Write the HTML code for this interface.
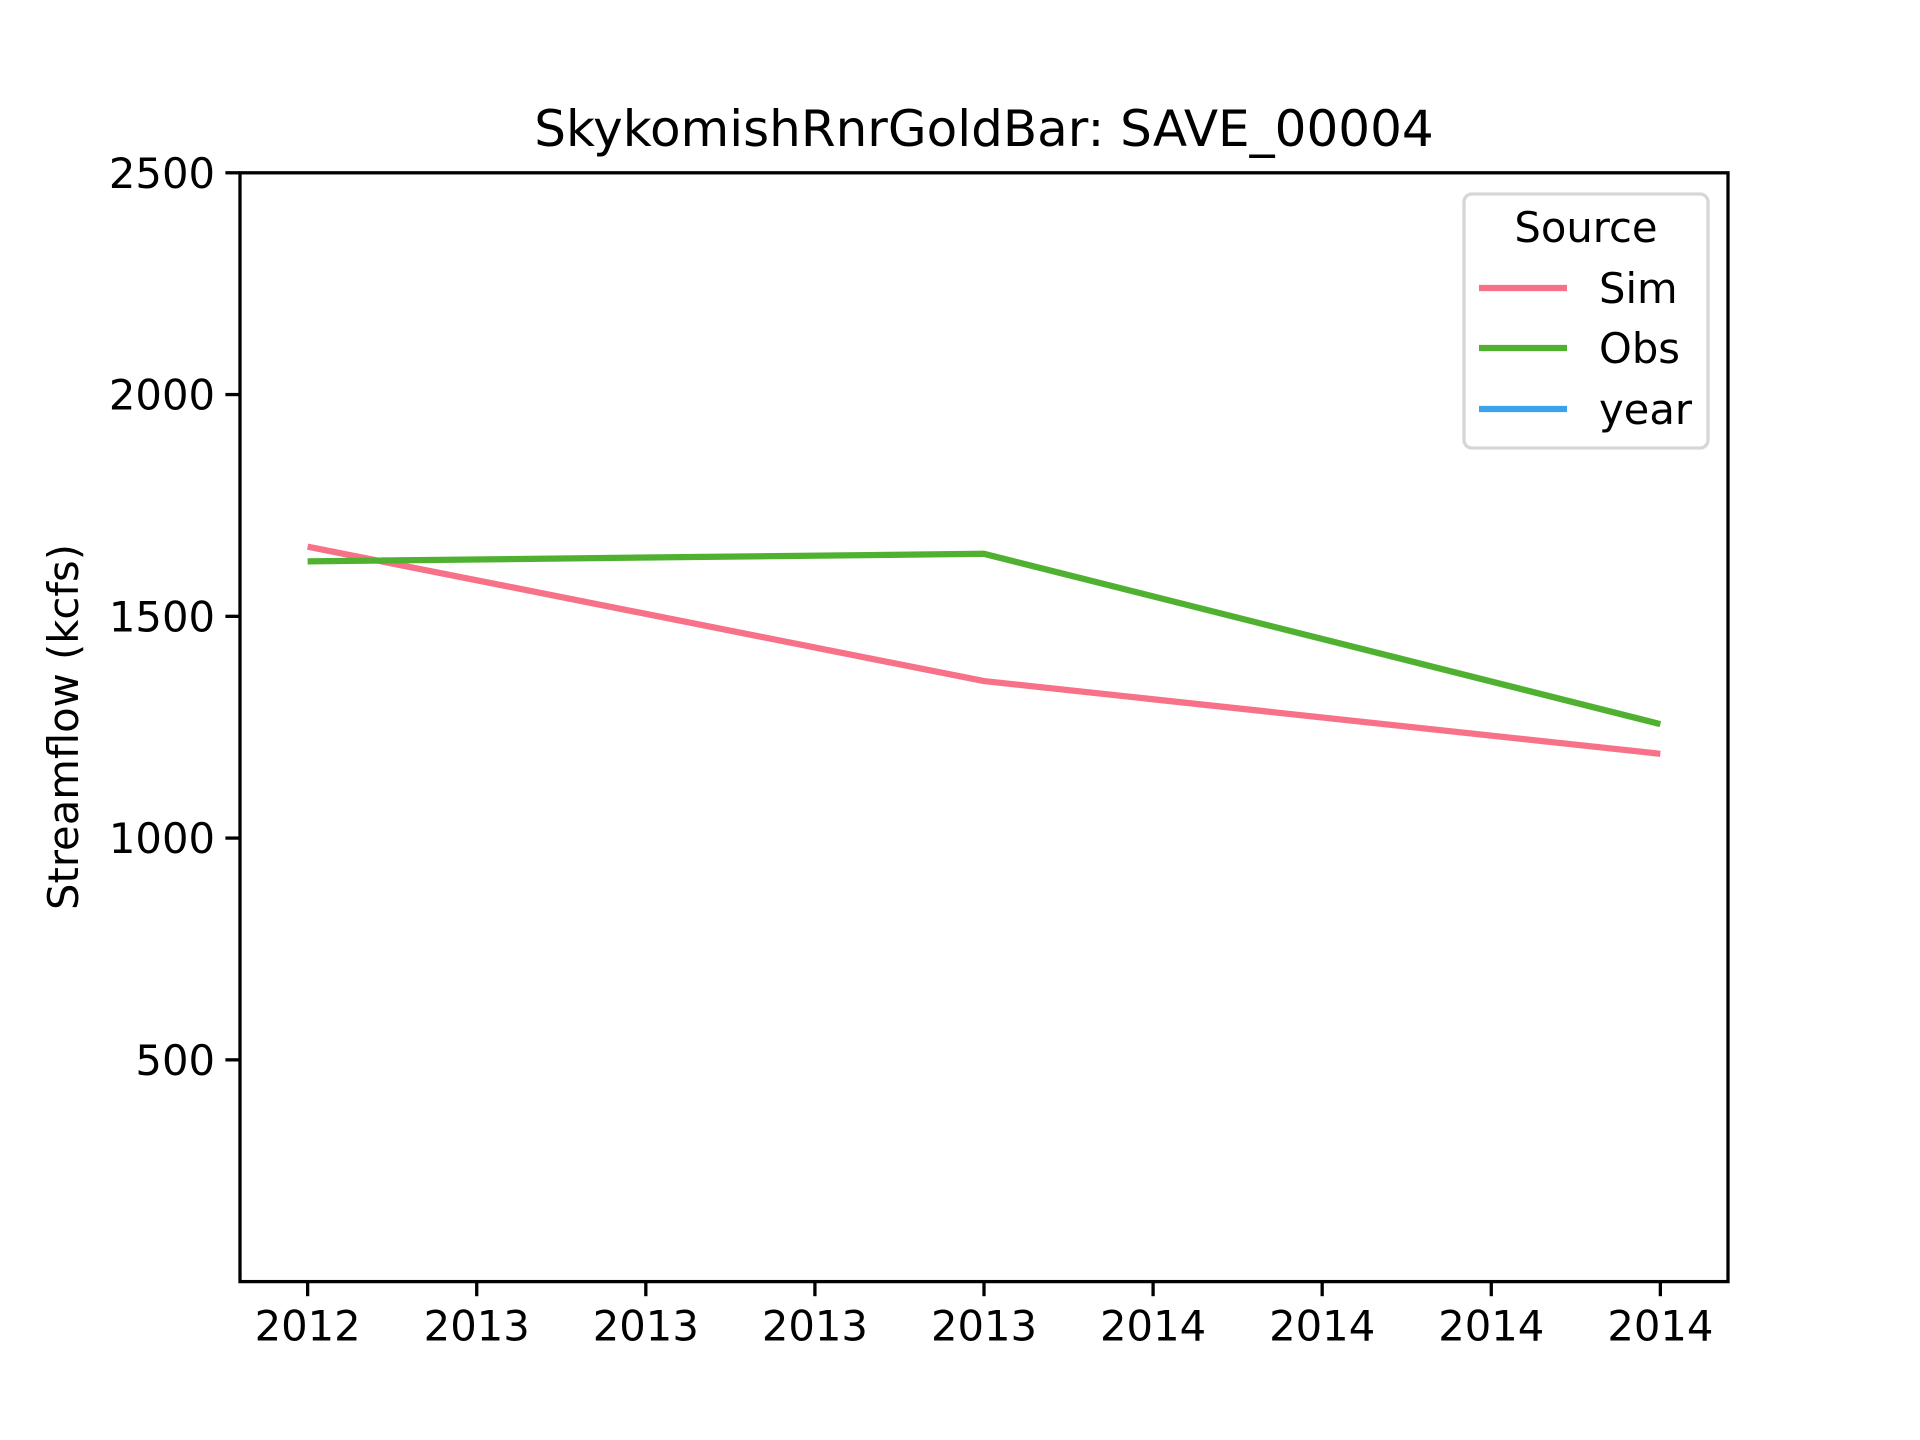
<!DOCTYPE html>
<html><head><meta charset="utf-8"><style>
html,body{margin:0;padding:0;background:#fff;}
svg{display:block;font-family:"DejaVu Sans","Liberation Sans",sans-serif;}
</style></head><body>
<svg id="chart" width="1920" height="1440" viewBox="0 0 1920 1440">
<rect width="1920" height="1440" fill="#fff"/>
<text x="984" y="146" font-size="50" text-anchor="middle">SkykomishRnrGoldBar: SAVE_00004</text>
<text transform="translate(78,727) rotate(-90)" font-size="41.7" text-anchor="middle">Streamflow (kcfs)</text>
<g id="xticks"></g>
<g id="yticks"></g>
<g id="series"></g>
<rect x="240" y="172.8" width="1488" height="1108.8" fill="none" stroke="#000" stroke-width="3.3"/>
<g>
<rect x="1464" y="194" width="244" height="254" rx="8" fill="#fff" fill-opacity="0.8" stroke="#d6d6d6" stroke-width="3.3"/>
<text x="1586" y="242" font-size="41.7" text-anchor="middle">Source</text>
<line x1="1479" y1="288" x2="1567" y2="288" stroke="#f77189" stroke-width="6.25"/>
<text x="1599" y="303" font-size="41.7">Sim</text>
<line x1="1479" y1="348" x2="1567" y2="348" stroke="#50b131" stroke-width="6.25"/>
<text x="1599" y="363" font-size="41.7">Obs</text>
<line x1="1479" y1="409" x2="1567" y2="409" stroke="#3ba3ec" stroke-width="6.25"/>
<text x="1599" y="424" font-size="41.7">year</text>
</g>
</svg>
<script>
const xTickLabels = ["2012","2013","2013","2013","2013","2014","2014","2014","2014"];
const yTickValues = [500,1000,1500,2000,2500];
const pointIndex = [0,4,8];
const simValues = [1657,1354,1190];
const obsValues = [1624,1641,1257];

const NS="http://www.w3.org/2000/svg";
const L=240,R=1728,T=172.8,B=1281.6;
const xMin=-0.4,xMax=8.4,yMin=0,yMax=2500;
function xs(v){return L+(v-xMin)/(xMax-xMin)*(R-L);}
function ys(v){return B-(v-yMin)/(yMax-yMin)*(B-T);}
function mk(tag,attrs,parent){const e=document.createElementNS(NS,tag);for(const k in attrs)e.setAttribute(k,attrs[k]);parent.appendChild(e);return e;}
const gx=document.getElementById('xticks'),gy=document.getElementById('yticks'),gs=document.getElementById('series');
xTickLabels.forEach((lab,i)=>{
  const x=xs(i);
  const t=mk('line',{x1:x,y1:B,x2:x,y2:B+14.6,stroke:'#000','stroke-width':3.3},gx);
  
  
  const tx=mk('text',{x:x,y:B+59,'font-size':41.7,'text-anchor':'middle'},gx);
  tx.textContent=lab;
  
  
});
yTickValues.forEach(v=>{
  const y=ys(v);
  const t=mk('line',{x1:L-14.6,y1:y,x2:L,y2:y,stroke:'#000','stroke-width':3.3},gy);
  
  
  const tx=mk('text',{x:L-25,y:y+15,'font-size':41.7,'text-anchor':'end'},gy);
  tx.textContent=v;
  
  
});
function drawLine(vals,color,name){
  const pts=vals.map((v,i)=>xs(pointIndex[i])+','+ys(v)).join(' ');
  const p=mk('polyline',{points:pts,fill:'none',stroke:color,'stroke-width':6.25,'stroke-linejoin':'round'},gs);
  
  
}
drawLine(simValues,'#f77189','sim-line');
drawLine(obsValues,'#50b131','obs-line');
</script>
</body></html>
